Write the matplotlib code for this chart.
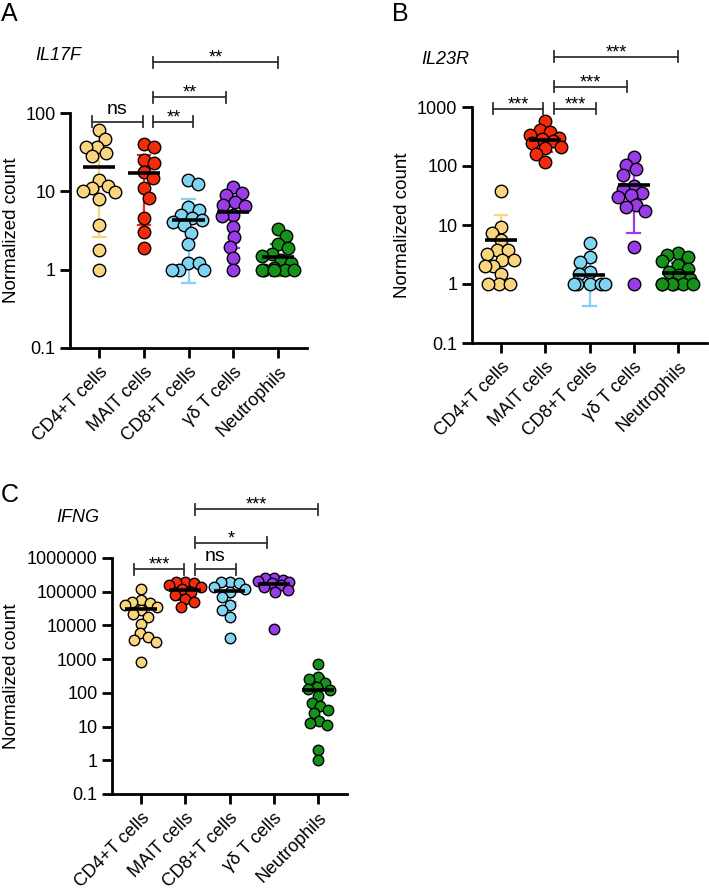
import numpy as np
import matplotlib
matplotlib.use("Agg")
import matplotlib.pyplot as plt

plt.rcParams['font.family'] = ['Liberation Sans', 'DejaVu Sans']

categories = ["CD4+T cells", "MAIT cells", "CD8+T cells", "γδ T cells", "Neutrophils"]
colors = ["#F9D67E", "#F52A0A", "#7FD4F2", "#9A3BEA", "#16921A"]

# ---------------- IL17F ----------------
il17f_cd4 = [60, 46, 37, 37, 31, 28, 14, 11.8, 11, 10.1, 9.8, 7.9, 3.7, 1.8, 1.0]
il17f_mait = [40, 37, 25, 23, 17.7, 14.8, 11, 8.3, 4.5, 3.0, 1.9]
il17f_cd8 = [14, 12.4, 6.4, 5.8, 5.0, 4.6, 4.3, 4.1, 3.7, 2.9, 2.1, 1.2, 1.2, 1.0, 1.0, 1.0]
il17f_gd = [11.5, 9.5, 9.0, 7.4, 6.7, 6.5, 5.0, 4.8, 3.55, 2.6, 1.95, 1.4, 1.0]
il17f_neu = [3.3, 2.66, 2.1, 1.9, 1.6, 1.5, 1.34, 1.2, 1.05, 1.0, 1.0, 1.0, 1.0, 1.0]
il17f_mean = [20.5, 17, 4.3, 5.5, 1.46]
il17f_lo = [2.6, 3.7, 0.68, 1.9, 0.82]
il17f_hi = [37, 29, 8.0, 9.5, 2.1]

# ---------------- IL23R ----------------
il23r_cd4 = [38, 9.3, 7.4, 5.6, 3.8, 3.7, 3.2, 2.6, 2.6, 2.0, 2.0, 1.5, 1, 1, 1]
il23r_mait = [586, 410, 380, 330, 300, 290, 270, 250, 210, 200, 160, 117]
il23r_cd8 = [5.0, 2.9, 2.4, 1.6, 1.5, 1, 1, 1, 1, 1]
il23r_gd = [140, 105, 88, 70, 46, 40, 35, 32, 30, 22, 20, 17, 4.2, 1]
il23r_neu = [3.3, 3.1, 2.9, 2.5, 2.1, 1.8, 1.6, 1.4, 1.2, 1, 1, 1, 1, 1, 1]
il23r_mean = [5.5, 280, 1.4, 48, 1.55]
il23r_lo = [np.nan, 170, 0.43, 7.4, 0.82]
il23r_hi = [14.8, 400, 2.4, 90, 2.3]

# ---------------- IFNG ----------------
ifng_cd4 = [120000, 55000, 50000, 45000, 40000, 35000, 28000, 22000, 18000, 11000, 6000, 4500, 3800, 3200, 850]
ifng_mait = [200000, 190000, 180000, 160000, 140000, 120000, 100000, 80000, 60000, 50000, 35000]
ifng_cd8 = [200000, 190000, 180000, 140000, 120000, 100000, 70000, 40000, 28000, 18000, 4200]
ifng_gd = [260000, 250000, 230000, 210000, 200000, 180000, 160000, 140000, 110000, 100000, 8000]
ifng_neu = [700, 300, 250, 200, 150, 130, 120, 80, 50, 40, 30, 25, 15, 13, 11, 2, 1]
ifng_mean = [30000, 110000, 105000, 175000, 125]
ifng_lo = [np.nan, 58000, 50000, np.nan, np.nan]
ifng_hi = [60000, 190000, 170000, 240000, 300]

# significance comparisons: (x_left, x_right, level, label)
il17f_sig = [(-0.16, 0.97, 77, "ns"), (1.21, 2.11, 77, "**"),
             (1.21, 2.85, 160, "**"), (1.21, 4.0, 447, "**")]
il23r_sig = [(-0.18, 0.95, 930, "***"), (1.2, 2.14, 930, "***"),
             (1.2, 2.86, 2190, "***"), (1.2, 4.0, 7080, "***")]
ifng_sig = [(-0.16, 0.97, 4.7e5, "***"), (1.22, 2.14, 4.7e5, "ns"),
            (1.22, 2.84, 2.8e6, "*"), (1.22, 4.0, 2.8e7, "***")]

ytick_A = [0.1, 1, 10, 100]
ytick_B = [0.1, 1, 10, 100, 1000]
ytick_C = [0.1, 1, 10, 100, 1000, 10000, 100000, 1000000]
ytick_lab_A = ["0.1", "1", "10", "100"]
ytick_lab_B = ["0.1", "1", "10", "100", "1000"]
ytick_lab_C = ["0.1", "1", "10", "100", "1000", "10000", "100000", "1000000"]

W, H = 709, 891
fig = plt.figure(figsize=(W / 100, H / 100), dpi=100)


def px_axes(x0, x1, y0, y1):
    return fig.add_axes([x0 / W, 1 - y1 / H, (x1 - x0) / W, (y1 - y0) / H])


def beeswarm(ax, x0, vals, diam_px, frac=0.85, maxoff=0.36):
    vals = np.asarray(vals, float)
    ys = ax.transData.transform(np.column_stack([np.full(len(vals), x0), vals]))[:, 1]
    ppu = ax.transData.transform((1, 1))[0] - ax.transData.transform((0, 1))[0]
    D = diam_px * frac
    mo = maxoff * ppu
    grid = np.arange(-mo, mo + 0.01, 0.5)
    grid = sorted(grid, key=lambda c: (abs(c), c))
    order = np.argsort(-vals, kind="stable")
    placed = []
    offs = np.zeros(len(vals))
    for idx in order:
        y = ys[idx]
        best, bestpen = 0.0, None
        for c in grid:
            pen = 0.0
            for px, py in placed:
                d = np.hypot(c - px, y - py)
                if d < D:
                    pen += (D - d)
            if pen == 0:
                best = c
                bestpen = 0
                break
            if bestpen is None or pen < bestpen - 1e-9:
                best, bestpen = c, pen
        offs[idx] = best
        placed.append((best, y))
    return x0 + offs / ppu


def panel(ax, groups, means, los, his, ylim, yticks, ylabs, sig, gene, letter,
          letter_xy, gene_xy, diam_px, ylab_x):
    ax.set_yscale("log")
    ax.set_xlim(-0.66, 4.66)
    ax.set_ylim(*ylim)
    for s in ["top", "right"]:
        ax.spines[s].set_visible(False)
    for s in ["left", "bottom"]:
        ax.spines[s].set_linewidth(2.0)
    ax.set_yticks(yticks)
    ax.set_yticklabels(ylabs)
    ax.minorticks_off()
    ax.set_xticks(range(len(categories)))
    ax.set_xticklabels(categories, rotation=45, ha="right", rotation_mode="anchor")
    ax.tick_params(axis="both", width=2.0, length=7, labelsize=13, color="black")
    ax.tick_params(axis="x", pad=4)
    ax.set_ylabel("Normalized count", fontsize=13.5)
    ax.yaxis.set_label_coords(ylab_x, 0.5)
    ms = (diam_px * 72 / 100) ** 2
    for i, vals in enumerate(groups):
        xs = beeswarm(ax, i, vals, diam_px)
        lo, hi, m = los[i], his[i], means[i]
        if np.isfinite(hi):
            ax.plot([i, i], [m, hi], color=colors[i], lw=1.6, zorder=2)
            ax.plot([i - 0.14, i + 0.14], [hi, hi], color=colors[i], lw=1.6, zorder=2)
        if np.isfinite(lo):
            ax.plot([i, i], [lo, m], color=colors[i], lw=1.6, zorder=2)
            ax.plot([i - 0.14, i + 0.14], [lo, lo], color=colors[i], lw=1.6, zorder=2)
        ax.scatter(xs, vals, s=ms, facecolor=colors[i], edgecolor="black",
                   linewidth=1.0, zorder=3, clip_on=False)
        ax.plot([i - 0.36, i + 0.36], [m, m], color="black", lw=2.6, zorder=4,
                solid_capstyle="butt")
    for (xl, xr, lev, lab) in sig:
        ax.plot([xl, xr], [lev, lev], color="#333333", lw=1.3, clip_on=False)
        for xe in (xl, xr):
            yb = ax.transData.transform((xe, lev))[1]
            y0 = ax.transData.inverted().transform((0, yb - 5.5))[1]
            y1 = ax.transData.inverted().transform((0, yb + 5.5))[1]
            ax.plot([xe, xe], [y0, y1], color="#333333", lw=1.3, clip_on=False)
        if lab == "ns":
            ax.annotate(lab, xy=((xl + xr) / 2, lev), xytext=(0, 9),
                        textcoords="offset points", ha="center", va="center",
                        fontsize=14, annotation_clip=False)
        else:
            ax.annotate(lab, xy=((xl + xr) / 2, lev), xytext=(0, 3),
                        textcoords="offset points", ha="center", va="center",
                        fontsize=13, annotation_clip=False)
    fig.text(letter_xy[0] / W, 1 - letter_xy[1] / H, letter, fontsize=18,
             ha="left", va="center")
    fig.text(gene_xy[0] / W, 1 - gene_xy[1] / H, gene, fontsize=13,
             style="italic", ha="left", va="center")


axA = px_axes(70, 307, 113, 348)
panel(axA, [il17f_cd4, il17f_mait, il17f_cd8, il17f_gd, il17f_neu],
      il17f_mean, il17f_lo, il17f_hi, (0.1, 100), ytick_A, ytick_lab_A,
      il17f_sig, "IL17F", "A", (1, 14), (35, 56), 12.5, -0.211)

axB = px_axes(472, 707, 107, 343)
panel(axB, [il23r_cd4, il23r_mait, il23r_cd8, il23r_gd, il23r_neu],
      il23r_mean, il23r_lo, il23r_hi, (0.1, 1000), ytick_B, ytick_lab_B,
      il23r_sig, "IL23R", "B", (392, 14), (421, 60), 12.5, -0.26)

axC = px_axes(112, 347, 558, 794)
panel(axC, [ifng_cd4, ifng_mait, ifng_cd8, ifng_gd, ifng_neu],
      ifng_mean, ifng_lo, ifng_hi, (0.1, 1e6), ytick_C, ytick_lab_C,
      ifng_sig, "IFNG", "C", (1, 495), (56, 518), 10.5, -0.391)

fig.savefig("out.png", dpi=100)
